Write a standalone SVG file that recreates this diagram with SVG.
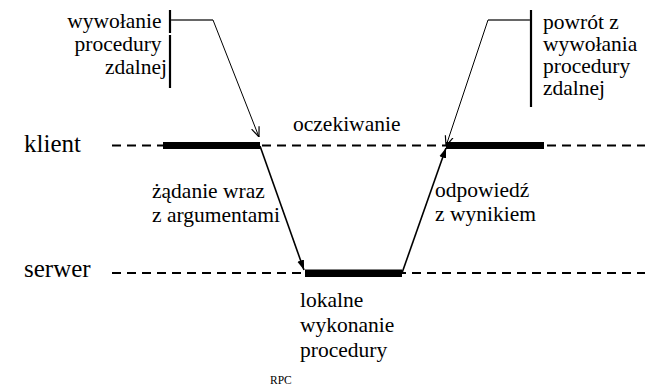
<svg xmlns="http://www.w3.org/2000/svg" width="645" height="387" viewBox="0 0 645 387">
  <style>
    text { font-family: 'Liberation Serif', 'Times New Roman', serif; fill: #000; }
    .lbl { font-size: 21.5px; }
    .role { font-size: 25px; }
    .cap { font-size: 11.5px; }
    .timeline { stroke: #000; stroke-width: 2; stroke-dasharray: 9 6; fill: none; }
    .bar { fill: #000; }
    .bracket { stroke: #000; stroke-width: 2.2; fill: none; }
    .tick { stroke: #666; stroke-width: 2.2; fill: none; }
    .pointer { stroke: #000; stroke-width: 1; fill: none; }
    .msg { stroke: #000; stroke-width: 1.6; fill: none; }
  </style>
  <defs>
    <marker id="headThin" viewBox="0 0 10 10" refX="10" refY="5" markerWidth="10" markerHeight="10" markerUnits="userSpaceOnUse" orient="auto">
      <path d="M0,1 L10,5 L0,9" fill="none" stroke="#000" stroke-width="1.2"/>
    </marker>
    <marker id="headMsg" viewBox="0 0 10 10" refX="10" refY="5" markerWidth="10" markerHeight="10" markerUnits="userSpaceOnUse" orient="auto">
      <path d="M0,1.5 L10,5 L0,8.5 Z" fill="#000"/>
    </marker>
  </defs>

  <!-- timelines -->
  <g id="client">
    <text class="role" x="24" y="152">klient</text>
    <line class="timeline" x1="112" y1="145.5" x2="645" y2="145.5"/>
    <rect class="bar" x="163" y="142" width="97" height="7"/>
    <rect class="bar" x="446" y="142" width="98" height="7"/>
  </g>
  <g id="server">
    <text class="role" x="24" y="277">serwer</text>
    <line class="timeline" x1="112" y1="273" x2="645" y2="273"/>
    <rect class="bar" x="305" y="269.5" width="97" height="7.5"/>
  </g>

  <!-- annotations -->
  <g id="call-note">
    <text class="lbl" text-anchor="end">
      <tspan x="167" y="28">wywołanie</tspan>
      <tspan x="167" y="51">procedury</tspan>
      <tspan x="167" y="74">zdalnej</tspan>
    </text>
    <line class="bracket" x1="170" y1="10" x2="170" y2="33"/>
    <line class="bracket" x1="170" y1="35" x2="170" y2="88"/>
    <line class="tick" x1="171" y1="20" x2="213" y2="20"/>
  </g>
  <g id="return-note">
    <text class="lbl">
      <tspan x="543" y="29">powrót z</tspan>
      <tspan x="543" y="51">wywołania</tspan>
      <tspan x="543" y="73">procedury</tspan>
      <tspan x="543" y="95">zdalnej</tspan>
    </text>
    <line class="bracket" x1="531" y1="10" x2="531" y2="107"/>
    <line class="tick" x1="488" y1="20" x2="530" y2="20"/>
  </g>
  <g id="waiting">
    <text class="lbl" x="293" y="131">oczekiwanie</text>
  </g>
  <g id="request-label">
    <text class="lbl">
      <tspan x="152" y="198">żądanie wraz</tspan>
      <tspan x="152" y="222">z argumentami</tspan>
    </text>
  </g>
  <g id="reply-label">
    <text class="lbl">
      <tspan x="435" y="197">odpowiedź</tspan>
      <tspan x="435" y="221">z wynikiem</tspan>
    </text>
  </g>
  <g id="local-exec">
    <text class="lbl">
      <tspan x="300" y="307">lokalne</tspan>
      <tspan x="300" y="332">wykonanie</tspan>
      <tspan x="300" y="357">procedury</tspan>
    </text>
  </g>
  <g id="caption">
    <text class="cap" x="270" y="384">RPC</text>
  </g>

  <!-- connectors -->
  <g id="connectors">
    <line class="pointer" x1="213" y1="20" x2="259" y2="137" marker-end="url(#headThin)"/>
    <line class="pointer" x1="488" y1="20" x2="446" y2="146" marker-end="url(#headThin)"/>
    <line class="msg" x1="260" y1="146" x2="304" y2="270" marker-end="url(#headMsg)"/>
    <line class="msg" x1="402" y1="273" x2="446" y2="148" marker-end="url(#headMsg)"/>
  </g>
</svg>
